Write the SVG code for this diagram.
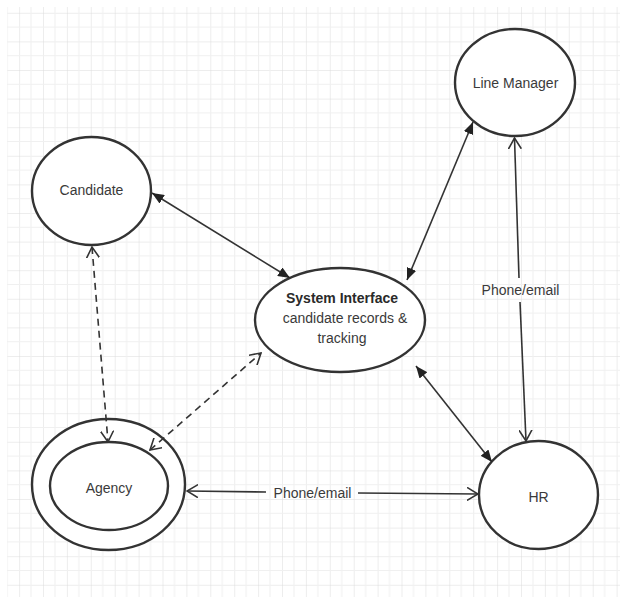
<svg xmlns="http://www.w3.org/2000/svg" width="627" height="607" viewBox="0 0 627 607">
<style>
.node{fill:#fff;stroke:#333;stroke-width:2.4}
.lbl{font-family:"Liberation Sans",Arial,sans-serif;font-size:14px;fill:#3a3a3a;text-anchor:middle}
.b{font-weight:bold;fill:#2a2a2a}
.c{fill:none;stroke:#333;stroke-width:1.6}
.d{stroke-dasharray:7 5}
</style>
<defs>
<pattern id="grid" patternUnits="userSpaceOnUse" x="19.1" y="12.8" width="23.9" height="28.6">
<path d="M0 0V28.6M0 0H23.9" fill="none" stroke="#dcdcdc" stroke-width="1"/>
<path d="M11.95 0V28.6M0 14.3H23.9" fill="none" stroke="#f0f0f0" stroke-width="1"/>
</pattern>
<marker id="fa" viewBox="0 0 12 10" refX="12" refY="5" markerWidth="12" markerHeight="10" markerUnits="userSpaceOnUse" orient="auto-start-reverse">
<path d="M0 0L12 5L0 10Z" fill="#222"/>
</marker>
<marker id="oa" viewBox="0 0 12 14" refX="11" refY="7" markerWidth="12" markerHeight="14" markerUnits="userSpaceOnUse" orient="auto-start-reverse">
<path d="M0 0.5L11 7L0 13.5" fill="none" stroke="#333" stroke-width="1.6"/>
</marker>
</defs>
<rect width="627" height="607" fill="#fff"/>
<rect x="7" y="7" width="613" height="590" fill="url(#grid)"/>
<g id="candidate">
<ellipse class="node" cx="91.5" cy="191" rx="59.5" ry="54"/>
<text class="lbl" x="91.5" y="195">Candidate</text>
</g>
<g id="line-manager">
<ellipse class="node" cx="515" cy="82.5" rx="60" ry="53.5"/>
<text class="lbl" x="515.5" y="88">Line Manager</text>
</g>
<g id="system-interface">
<ellipse class="node" cx="340" cy="320" rx="85" ry="52"/>
<text class="lbl b" x="342" y="303">System Interface</text>
<text class="lbl" x="345" y="323">candidate records &amp;</text>
<text class="lbl" x="342" y="343">tracking</text>
</g>
<g id="agency">
<ellipse class="node" cx="108.5" cy="484.5" rx="76.5" ry="65.5"/>
<ellipse class="node" cx="109" cy="486" rx="59" ry="44"/>
<text class="lbl" x="109" y="493">Agency</text>
</g>
<g id="hr">
<ellipse class="node" cx="538.5" cy="495" rx="59.5" ry="54"/>
<text class="lbl" x="538.5" y="502">HR</text>
</g>
<g id="connectors">
<line class="c" x1="152" y1="193" x2="290" y2="278" marker-start="url(#fa)" marker-end="url(#fa)"/>
<line class="c" x1="473" y1="122" x2="407" y2="280" marker-start="url(#fa)" marker-end="url(#fa)"/>
<line class="c" x1="416" y1="366" x2="492" y2="462" marker-start="url(#fa)" marker-end="url(#fa)"/>
<line class="c" x1="514.5" y1="138" x2="519" y2="278" marker-start="url(#oa)"/>
<line class="c" x1="520" y1="302" x2="526" y2="441" marker-end="url(#oa)"/>
<line class="c" x1="187" y1="491" x2="266" y2="492" marker-start="url(#oa)"/>
<line class="c" x1="358" y1="493" x2="478" y2="494" marker-end="url(#oa)"/>
<line class="c d" x1="92" y1="247" x2="108" y2="442" marker-start="url(#oa)" marker-end="url(#oa)"/>
<line class="c d" x1="150" y1="450" x2="261" y2="353" marker-start="url(#oa)" marker-end="url(#oa)"/>
<text class="lbl" x="312.5" y="498">Phone/email</text>
<text class="lbl" x="520.5" y="295">Phone/email</text>
</g>
</svg>
